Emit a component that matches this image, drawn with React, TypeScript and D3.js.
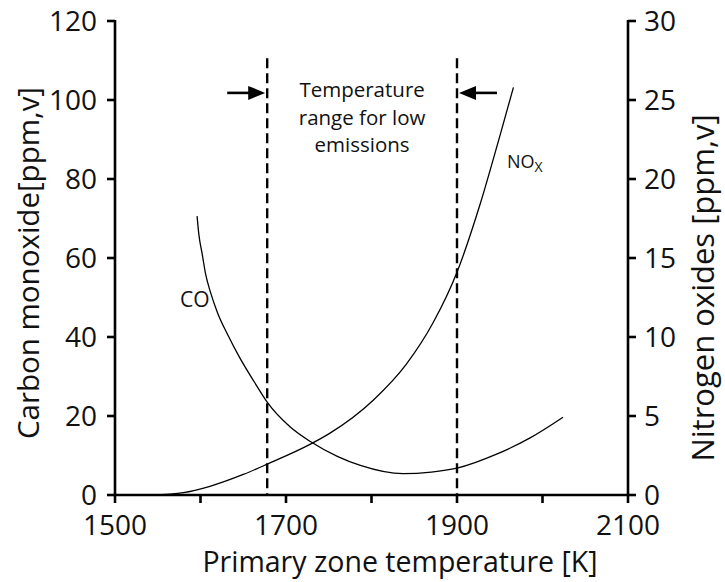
import React from "react";
import * as d3 from "d3";

const coTemps = [1596, 1598, 1602, 1606, 1612, 1620, 1632, 1646, 1663, 1678, 1705, 1728, 1760, 1787, 1837, 1870, 1900, 1947, 1985, 2024];
const coValues = [70.6, 66.1, 61.0, 55.9, 51.1, 46.1, 40.5, 34.7, 28.6, 23.5, 17.2, 13.6, 9.8, 7.5, 5.4, 5.8, 6.8, 10.4, 14.4, 19.7];

const noxTemps = [1543, 1580, 1611, 1650, 1678, 1728, 1751, 1802, 1841, 1872, 1900, 1927, 1950, 1966];
const noxValues = [0, 0.15, 0.55, 1.3, 1.95, 3.2, 3.9, 6.0, 8.3, 10.9, 14.1, 18.4, 22.7, 25.8];

const xTicks = [1500, 1600, 1700, 1800, 1900, 2000, 2100];
const xTickLabels = [1500, 1700, 1900, 2100];
const leftTicks = [0, 20, 40, 60, 80, 100, 120];
const rightTicks = [0, 5, 10, 15, 20, 25, 30];
const rangeBounds = [1678, 1900];
const noteLines = ["Temperature", "range for low", "emissions"];

const W = 725;
const H = 582;
const FONT = "'Open Sans', 'DejaVu Sans', sans-serif";

export default function App() {
  const x = d3.scaleLinear().domain([1500, 2100]).range([115, 628]);
  const yL = d3.scaleLinear().domain([0, 120]).range([495, 21]);
  const yR = d3.scaleLinear().domain([0, 30]).range([495, 21]);

  const coLine = d3
    .line<number>()
    .x((d, i) => x(coTemps[i]))
    .y((d) => yL(d))
    .curve(d3.curveMonotoneX);
  const noxLine = d3
    .line<number>()
    .x((d, i) => x(noxTemps[i]))
    .y((d) => yR(d))
    .curve(d3.curveMonotoneX);

  const x0 = x(1500);
  const x1 = x(2100);
  const yBottom = yL(0);
  const yTop = yL(120);
  const arrowY = yL(101.8);
  const noteX = x(1789);
  const xa = x(rangeBounds[0]);
  const xb = x(rangeBounds[1]);

  return (
    <svg
      width={W}
      height={H}
      style={{ position: "absolute", left: 0, top: 0, background: "#fff" }}
      fontFamily={FONT}
    >
      <rect width={W} height={H} fill="#fff" />
      {/* dashed range lines */}
      {rangeBounds.map((t) => (
        <line
          key={t}
          x1={x(t)}
          x2={x(t)}
          y1={yL(110.6)}
          y2={yBottom}
          stroke="#000"
          strokeWidth={2.4}
          strokeDasharray="10,5"
        />
      ))}
      {/* arrows */}
      <line x1={xa - 40} x2={xa - 14} y1={arrowY} y2={arrowY} stroke="#000" strokeWidth={2.6} />
      <path d={`M${xa - 2},${arrowY} L${xa - 19},${arrowY - 7} L${xa - 19},${arrowY + 7} Z`} fill="#000" />
      <line x1={xb + 40} x2={xb + 14} y1={arrowY} y2={arrowY} stroke="#000" strokeWidth={2.6} />
      <path d={`M${xb + 2},${arrowY} L${xb + 19},${arrowY - 7} L${xb + 19},${arrowY + 7} Z`} fill="#000" />
      {noteLines.map((s, i) => (
        <text key={s} x={noteX} y={97 + i * 27.5} textAnchor="middle" fontSize={20.5} fill="#111">
          {s}
        </text>
      ))}

      {/* curves */}
      <path d={coLine(coValues) || ""} fill="none" stroke="#000" strokeWidth={1.3} />
      <path d={noxLine(noxValues) || ""} fill="none" stroke="#000" strokeWidth={1.3} />
      <text x={180} y={307} fontSize={21} fill="#111">CO</text>
      <text x={507} y={168} fontSize={18} fill="#111">
        NO
        <tspan fontSize={14} dy={4}>X</tspan>
      </text>

      {/* axes */}
      <g stroke="#000" strokeWidth={2.6}>
        <line x1={x0} x2={x1} y1={yBottom} y2={yBottom} />
        <line x1={x0} x2={x0} y1={yTop - 1} y2={yBottom + 1} />
        <line x1={x1} x2={x1} y1={yTop - 1} y2={yBottom + 1} />
        {xTicks.map((t) => (
          <line key={t} x1={x(t)} x2={x(t)} y1={yBottom} y2={yBottom + 8} />
        ))}
        {leftTicks.map((t) => (
          <line key={t} x1={x0 - 8} x2={x0} y1={yL(t)} y2={yL(t)} />
        ))}
        {rightTicks.map((t) => (
          <line key={t} x1={x1} x2={x1 + 8} y1={yR(t)} y2={yR(t)} />
        ))}
      </g>
      {xTickLabels.map((t) => (
        <text key={t} x={x(t)} y={535} textAnchor="middle" fontSize={28} fill="#111">
          {t}
        </text>
      ))}
      {leftTicks.map((t) => (
        <text key={t} x={97} y={yL(t)} dy="0.35em" textAnchor="end" fontSize={28} fill="#111">
          {t}
        </text>
      ))}
      {rightTicks.map((t) => (
        <text key={t} x={644} y={yR(t)} dy="0.35em" textAnchor="start" fontSize={28} fill="#111">
          {t}
        </text>
      ))}
      <text x={400} y={572} textAnchor="middle" fontSize={28.5} fill="#111">
        Primary zone temperature [K]
      </text>
      <text transform={`translate(39,263) rotate(-90)`} textAnchor="middle" fontSize={29.5} fill="#111">
        Carbon monoxide[ppm,v]
      </text>
      <text transform={`translate(714,288) rotate(-90)`} textAnchor="middle" fontSize={31} fill="#111">
        Nitrogen oxides [ppm,v]
      </text>
    </svg>
  );
}
